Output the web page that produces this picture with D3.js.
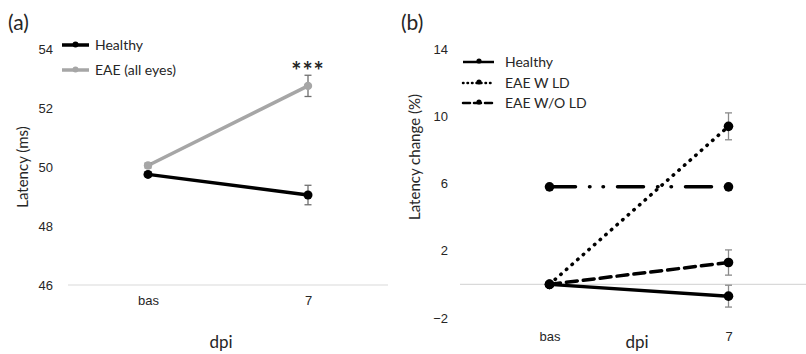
<!DOCTYPE html>
<html>
<head>
<meta charset="utf-8">
<script src="https://cdn.jsdelivr.net/npm/d3@7"></script>
<style>
  body { margin: 0; background: #fff; }
  svg { display: block; font-family: Lato, "Open Sans", sans-serif; }
</style>
</head>
<body>
<svg id="chart" width="806" height="354"></svg>
<script>
// ---- data ----
const categories = ['bas', '7'];

// panel (a): latency in ms
const healthyA = [49.75, 49.05];
const healthyAErr = [0.08, 0.33];
const eaeA = [50.05, 52.75];
const eaeAErr = [0.08, 0.36];
const ticksA = [46, 48, 50, 52, 54];

// panel (b): latency change in %
const healthyB = [0, -0.7];
const healthyBErr = [0, 0.65];
const withLD = [0, 9.4];
const withLDErr = [0, 0.8];
const withoutLD = [0, 1.3];
const withoutLDErr = [0, 0.75];
const dashDotB = [5.8, 5.8];
const ticksB = [-2, 2, 6, 10, 14];

const svg = d3.select('#chart');
const txt = '#262626';

// ===== panel (a) =====
const xA = d3.scalePoint().domain(categories).range([68, 388]).padding(0.5);
const yA = d3.scaleLinear().domain([46, 54]).range([285, 49]);

svg.append('text').attr('x', 8).attr('y', 30).attr('font-size', 21).attr('fill', txt).text('(a)');

svg.append('line')
  .attr('x1', 68).attr('x2', 388)
  .attr('y1', yA(46)).attr('y2', yA(46))
  .attr('stroke', '#d9d9d9').attr('stroke-width', 1.2);

const axisA = svg.append('g').attr('transform', 'translate(53,0)')
  .call(d3.axisLeft(yA).tickValues(ticksA).tickSize(0).tickPadding(0));
axisA.select('.domain').remove();
axisA.selectAll('text').attr('font-size', 13).attr('fill', txt).attr('font-family', null);

const xAxisA = svg.append('g').attr('transform', 'translate(0,296)')
  .call(d3.axisBottom(xA).tickSize(0).tickPadding(0));
xAxisA.select('.domain').remove();
xAxisA.selectAll('text').attr('font-size', 13).attr('fill', txt).attr('font-family', null);

svg.append('text').attr('transform', 'translate(28,167) rotate(-90)')
  .attr('text-anchor', 'middle').attr('font-size', 15).attr('fill', txt).text('Latency (ms)');
svg.append('text').attr('x', 221).attr('y', 348)
  .attr('text-anchor', 'middle').attr('font-size', 17).attr('fill', txt).text('dpi');

function drawSeries(g, x, y, vals, errs, color, width, dash, r, errColor) {
  const line = d3.line().x((d, i) => x(categories[i])).y(d => y(d));
  g.append('path').datum(vals).attr('d', line)
    .attr('fill', 'none').attr('stroke', color).attr('stroke-width', width)
    .attr('stroke-dasharray', dash).attr('stroke-linecap', dash ? 'round' : 'butt');
  vals.forEach((v, i) => {
    const cx = x(categories[i]);
    if (errs && errs[i] > 0) {
      const e = g.append('g').attr('stroke', errColor).attr('stroke-width', 1.3);
      e.append('line').attr('x1', cx).attr('x2', cx).attr('y1', y(v - errs[i])).attr('y2', y(v + errs[i]));
      [v - errs[i], v + errs[i]].forEach(t => {
        e.append('line').attr('x1', cx - 3.5).attr('x2', cx + 3.5).attr('y1', y(t)).attr('y2', y(t));
      });
    }
    g.append('circle').attr('cx', cx).attr('cy', y(v)).attr('r', r).attr('fill', color);
  });
}

const gA = svg.append('g');
drawSeries(gA, xA, yA, eaeA, eaeAErr, '#a6a6a6', 3.5, null, 4.2, '#6f6f6f');
drawSeries(gA, xA, yA, healthyA, healthyAErr, '#000', 3.5, null, 4.5, '#6f6f6f');

svg.append('text').attr('x', xA('7')).attr('y', 80)
  .attr('text-anchor', 'middle').attr('font-size', 24).attr('font-weight', 'bold')
  .attr('fill', txt).attr('letter-spacing', 1).text('***');

// legend (a)
const legA = [
  { label: 'Healthy', color: '#000', y: 45 },
  { label: 'EAE (all eyes)', color: '#a6a6a6', y: 70 }
];
legA.forEach(d => {
  svg.append('line').attr('x1', 62).attr('x2', 89).attr('y1', d.y).attr('y2', d.y)
    .attr('stroke', d.color).attr('stroke-width', 3.5);
  svg.append('circle').attr('cx', 75.5).attr('cy', d.y - 0.5).attr('r', 3).attr('fill', d.color);
  svg.append('text').attr('x', 95).attr('y', d.y + 5).attr('font-size', 14).attr('fill', txt).text(d.label);
});

// ===== panel (b) =====
const xB = d3.scalePoint().domain(categories).range([460, 818]).padding(0.5);
const yB = d3.scaleLinear().domain([-2, 14]).range([318, 49]);

svg.append('text').attr('x', 401).attr('y', 30).attr('font-size', 21).attr('fill', txt).text('(b)');

svg.append('line')
  .attr('x1', 460).attr('x2', 806)
  .attr('y1', yB(0)).attr('y2', yB(0))
  .attr('stroke', '#d9d9d9').attr('stroke-width', 1.2);

const axisB = svg.append('g').attr('transform', 'translate(448,0)')
  .call(d3.axisLeft(yB).tickValues(ticksB).tickSize(0).tickPadding(0));
axisB.select('.domain').remove();
axisB.selectAll('text').attr('font-size', 13).attr('fill', txt).attr('font-family', null);

const xAxisB = svg.append('g').attr('transform', 'translate(0,332)')
  .call(d3.axisBottom(xB).tickSize(0).tickPadding(0));
xAxisB.select('.domain').remove();
xAxisB.selectAll('text').attr('font-size', 13).attr('fill', txt).attr('font-family', null);

svg.append('text').attr('transform', 'translate(420,157) rotate(-90)')
  .attr('text-anchor', 'middle').attr('font-size', 15).attr('fill', txt).text('Latency change (%)');
svg.append('text').attr('x', 637).attr('y', 348)
  .attr('text-anchor', 'middle').attr('font-size', 17).attr('fill', txt).text('dpi');

const gB = svg.append('g');
drawSeries(gB, xB, yB, dashDotB, null, '#000', 3.5, '26,14,0.5,13,0.5,14', 4.8, '#8a8a8a');
drawSeries(gB, xB, yB, withLD, withLDErr, '#000', 3.5, '0.5,7', 4.8, '#8a8a8a');
drawSeries(gB, xB, yB, withoutLD, withoutLDErr, '#000', 3.5, '11,6', 4.8, '#8a8a8a');
drawSeries(gB, xB, yB, healthyB, healthyBErr, '#000', 3.5, null, 4.8, '#8a8a8a');

// legend (b)
const legB = [
  { label: 'Healthy', dash: null, y: 62 },
  { label: 'EAE W LD', dash: '0.5,4', y: 83 },
  { label: 'EAE W/O LD', dash: '7,4', y: 103 }
];
legB.forEach(d => {
  svg.append('line').attr('x1', 463).attr('x2', 494).attr('y1', d.y).attr('y2', d.y)
    .attr('stroke', '#000').attr('stroke-width', 2.5)
    .attr('stroke-dasharray', d.dash).attr('stroke-linecap', d.dash ? 'round' : 'butt');
  svg.append('circle').attr('cx', 479).attr('cy', d.y - 1).attr('r', 2.6).attr('fill', '#000');
  svg.append('text').attr('x', 505).attr('y', d.y + 5).attr('font-size', 14).attr('fill', txt).text(d.label);
});
</script>
</body>
</html>
